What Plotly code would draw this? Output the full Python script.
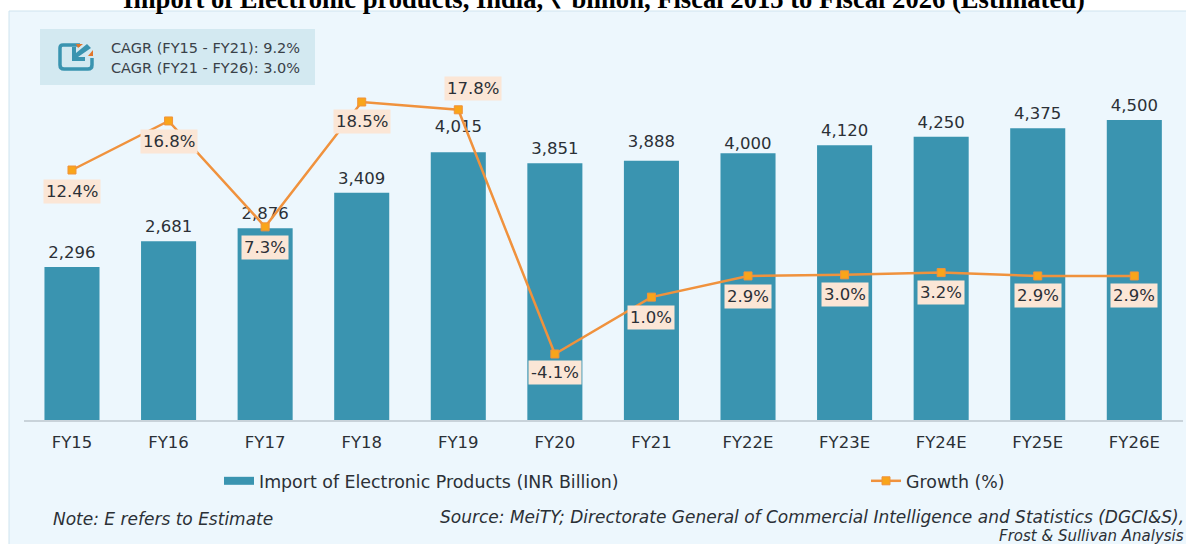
import plotly.graph_objects as go

categories = ["FY15", "FY16", "FY17", "FY18", "FY19", "FY20", "FY21", "FY22E", "FY23E", "FY24E", "FY25E", "FY26E"]
imports = [2296, 2681, 2876, 3409, 4015, 3851, 3888, 4000, 4120, 4250, 4375, 4500]
growth = [12.4, 16.8, 7.3, 18.5, 17.8, -4.1, 1.0, 2.9, 3.0, 3.2, 2.9, 2.9]

TITLE = "Import of Electronic products, India, ₹ billion, Fiscal 2015 to Fiscal 2026 (Estimated)"
BAR_NAME = "Import of Electronic Products (INR Billion)"
LINE_NAME = "Growth (%)"
CAGR = ["CAGR (FY15 - FY21): 9.2%", "CAGR (FY21 - FY26): 3.0%"]
NOTE = "Note: E refers to Estimate"
SOURCE = ["Source: MeiTY; Directorate General of Commercial Intelligence and Statistics (DGCI&amp;S),", "Frost &amp; Sullivan Analysis"]

W, H = 1186, 544
FONT = "DejaVu Sans"
TEAL = "#3a94b0"
ORANGE = "#f0923d"
PANEL = "#edf7fd"
LABEL_BG = "#fbe6d6"
TEXT = "#2b3036"

def px(x):
    return x / W

def py(y):
    return 1 - y / H

def pt(x, y):
    return f"{px(x):.5f},{py(y):.5f}"

# layout-only tweaks
value_marker_size = [6, 6, 6, 6, 24, 6, 14, 0, 6, 6, 6, 6]
label_xshift = [0, 0, 0, 0, 15, 0, 0, 0, 0, 0, 0, 0]
label_yshift = [-21, -21, -21, -20, 21, -19, -20, -21, -20, -20, -20, -20]

fig = go.Figure()
fig.add_bar(x=categories, y=imports, marker=dict(color=TEAL, line=dict(width=0)), width=0.57,
            showlegend=False, hoverinfo="skip", yaxis="y")
fig.add_scatter(x=categories, y=imports, mode="markers+text", text=[f"{v:,}" for v in imports],
                textposition="top center", textfont=dict(family=FONT, size=16.5, color=TEXT),
                marker=dict(size=value_marker_size, opacity=0), showlegend=False, yaxis="y")
fig.add_scatter(x=[categories[0]], y=[None], mode="lines", name=BAR_NAME,
                line=dict(color=TEAL, width=8), yaxis="y", legend="legend")
fig.add_scatter(x=categories, y=growth, mode="lines+markers", name=LINE_NAME, yaxis="y2", legend="legend2",
                line=dict(color=ORANGE, width=2.5),
                marker=dict(symbol="square", size=8, color="#f9a51a", line=dict(color=ORANGE, width=1)))

annotations = []
for i, (c, g) in enumerate(zip(categories, growth)):
    annotations.append(dict(x=c, y=g, xref="x", yref="y2", text=f"{g:.1f}%", showarrow=False,
                            xshift=label_xshift[i], yshift=label_yshift[i],
                            font=dict(family=FONT, size=16.5, color=TEXT), bgcolor=LABEL_BG, borderpad=2))
for line, y in zip(CAGR, [48, 68]):
    annotations.append(dict(x=px(109), y=py(y), xref="paper", yref="paper", text=line, showarrow=False,
                            xanchor="left", yanchor="middle", font=dict(family=FONT, size=14.5, color="#3a4148")))
annotations.append(dict(x=px(51), y=py(519), xref="paper", yref="paper", text=f"<i>{NOTE}</i>", showarrow=False,
                        xanchor="left", yanchor="middle", font=dict(family=FONT, size=17, color=TEXT)))
annotations.append(dict(x=px(1186), y=py(517), xref="paper", yref="paper", text=f"<i>{SOURCE[0]}</i>", showarrow=False,
                        xanchor="right", yanchor="middle", font=dict(family=FONT, size=17, color=TEXT)))
annotations.append(dict(x=px(1186), y=py(536), xref="paper", yref="paper", text=f"<i>{SOURCE[1]}</i>", showarrow=False,
                        xanchor="right", yanchor="middle", font=dict(family=FONT, size=15, color=TEXT)))

shapes = [
    dict(type="rect", xref="paper", yref="paper", x0=px(9), x1=px(1190), y0=py(11), y1=py(550),
         fillcolor=PANEL, line=dict(color="#cfe4ef", width=1), layer="below"),
    dict(type="rect", xref="paper", yref="paper", x0=px(40), x1=px(315), y0=py(29), y1=py(85),
         fillcolor="#d3e9f1", line=dict(width=0), layer="below"),
    dict(type="path", xref="paper", yref="paper", layer="below",
         path=f"M{pt(80,45)} L{pt(63,45)} Q{pt(60,45)} {pt(60,48)} L{pt(60,65)} Q{pt(60,69)} {pt(64,69)} "
              f"L{pt(88,69)} Q{pt(92,69)} {pt(92,65)} L{pt(92,58)}",
         line=dict(color=TEAL, width=3.5)),
    dict(type="path", xref="paper", yref="paper", layer="below",
         path=f"M{pt(72,61)} L{pt(85,61)} L{pt(85,57)} L{pt(78,57)} L{pt(91,48)} L{pt(87,44)} L{pt(76,53)} L{pt(76,47)} L{pt(72,47)} Z",
         fillcolor=TEAL, line=dict(width=0)),
    dict(type="path", xref="paper", yref="paper", layer="below",
         path=f"M{pt(76,44)} L{pt(83,44)} L{pt(78,48)} Z", fillcolor="#e2752a", line=dict(width=0)),
    dict(type="path", xref="paper", yref="paper", layer="below",
         path=f"M{pt(93,50)} L{pt(93,56)} L{pt(88,56)} Z", fillcolor="#e2752a", line=dict(width=0)),
]

legend_font = dict(family=FONT, size=17.4, color=TEXT)
fig.update_layout(
    width=W, height=H, margin=dict(l=0, r=0, t=0, b=0), autosize=False,
    paper_bgcolor="white", plot_bgcolor="rgba(0,0,0,0)",
    title=dict(text=f"<b>{TITLE}</b>", x=px(604), xanchor="center", xref="paper",
               y=py(8), yanchor="bottom", yref="paper", pad=dict(t=0, b=0),
               font=dict(family="Liberation Serif", size=26.6, color="black")),
    xaxis=dict(domain=[px(23.7), px(1182.6)], type="category", categoryorder="array", categoryarray=categories,
               range=[-0.5, 11.5], showgrid=False, zeroline=False, showline=True, linecolor="#c9d3da", linewidth=2,
               ticks="", ticklabelstandoff=6, tickfont=dict(family=FONT, size=16.5, color=TEXT)),
    yaxis=dict(domain=[py(420), py(12)], range=[0, 6120], visible=False, showgrid=False, zeroline=False),
    yaxis2=dict(domain=[py(420), py(12)], range=[-10.02, 26.57], overlaying="y", side="right", visible=False,
                showgrid=False, zeroline=False),
    legend=dict(x=px(219), xanchor="left", y=py(481), yanchor="middle", xref="paper", yref="paper",
                bgcolor="rgba(0,0,0,0)", itemclick=False, itemdoubleclick=False, font=legend_font),
    legend2=dict(x=px(866), xanchor="left", y=py(481), yanchor="middle", xref="paper", yref="paper",
                 bgcolor="rgba(0,0,0,0)", itemclick=False, itemdoubleclick=False, font=legend_font),
    annotations=annotations, shapes=shapes,
)

fig.write_html("out.html", config={"displayModeBar": False},
               post_script="document.body.style.margin='0';")
